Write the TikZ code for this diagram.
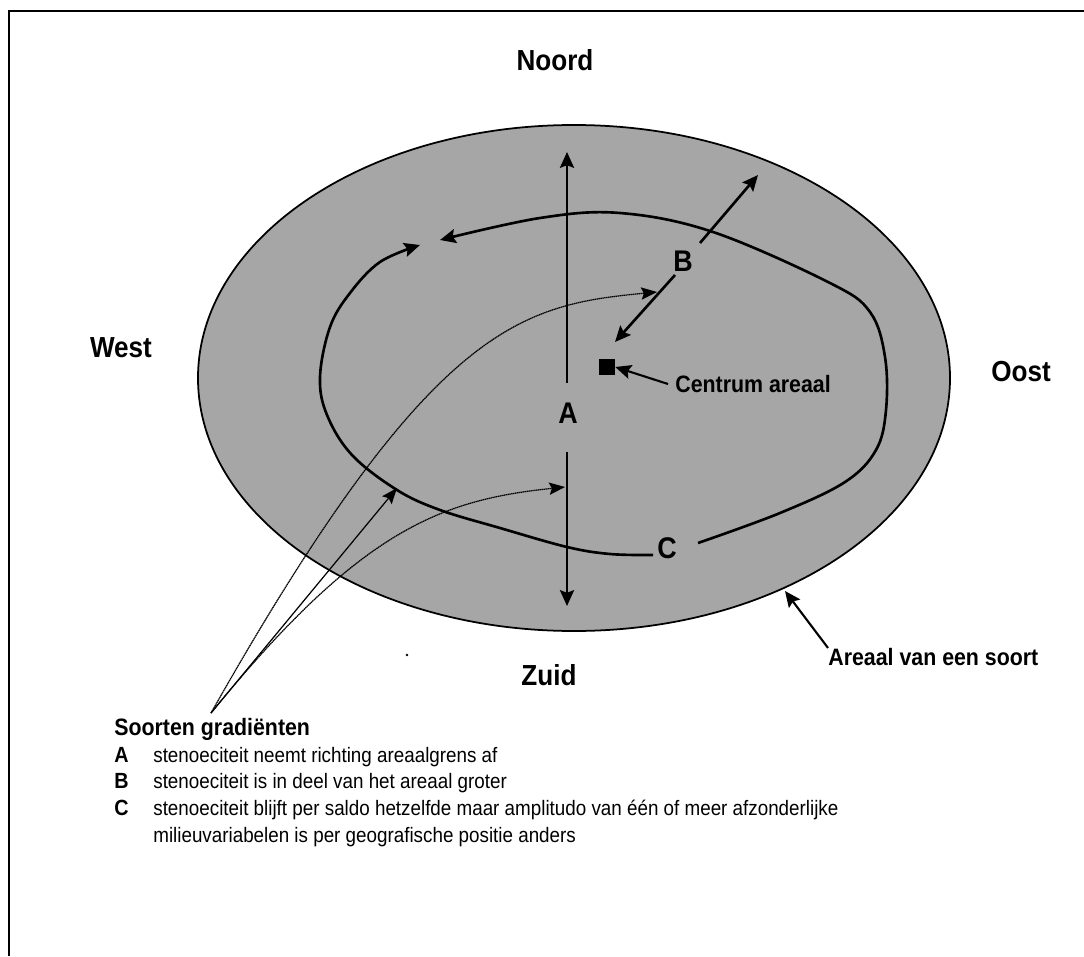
\documentclass[tikz,border=0pt]{standalone}
\usepackage{fontspec}
\setmainfont{Liberation Sans}[FakeStretch=0.9]
\usetikzlibrary{arrows.meta}
\definecolor{areagray}{RGB}{166,166,166}

\tikzset{
  windrose/.style={font=\bfseries\fontsize{16.5}{19}\selectfont},
  gradlabel/.style={font=\bfseries\fontsize{17}{20}\selectfont},
  note/.style={font=\bfseries\fontsize{13.5}{16}\selectfont, anchor=west, inner sep=4pt},
  legtitle/.style={font=\bfseries\fontsize{13.5}{16}\selectfont, anchor=base west, inner sep=0pt},
  legkey/.style={font=\bfseries\fontsize{12.5}{15}\selectfont, anchor=base west, inner sep=0pt},
  legtext/.style={font=\fontsize{11.9}{15}\selectfont, anchor=base west, inner sep=0pt},
  arr/.style={line width=1.5pt, -{Stealth[length=9pt,width=8pt,inset=1.5pt]}},
  thinarr/.style={line width=0.7pt, -{Stealth[length=9pt,width=7pt,inset=1.5pt]}},
  fine/.style={dash pattern=on 0.8pt off 0.3pt},
}

\begin{document}
\begin{tikzpicture}[x=0.02cm,y=-0.02cm]
\useasboundingbox (0,0) rectangle (1084,956);
\draw[line width=1.7pt] (9,956) -- (9,11) -- (1084,11);
\draw[line width=1pt, fill=areagray] (574,378) ellipse [x radius=376, y radius=253];

\node[windrose] (noord) at (555,60) {Noord};
\node[windrose] (west) at (121,348) {West};
\node[windrose] (oost) at (1021,372) {Oost};
\node[windrose] (zuid) at (549,675) {Zuid};

\draw[arr] plot[smooth, tension=0.6] coordinates {(698,543) (780,513) (845,482) (876,450) (886,410) (885,357) (870,312) (830,283) (713,232) (620,213) (540,218) (440,240)};
\draw[arr] plot[smooth, tension=0.6] coordinates {(653,555) (610,554) (567,547) (500,528) (440,510) (397,490) (352,455) (327,415) (320,377) (330,327) (350,293) (380,262) (420,245)};

\node[gradlabel] (A) at (568,413) {A};
\coordinate (Atop) at (567,152);
\coordinate (Abot) at (567,606);
\draw[arr] (567,383) -- (Atop);
\draw[arr] (567,452) -- (Abot);

\node[gradlabel] (B) at (683,261) {B};
\coordinate (Bout) at (758,175);
\coordinate (Bin) at (615,342);
\draw[arr] (700,243) -- (Bout);
\draw[arr] (675,275) -- (Bin);

\node[gradlabel] (C) at (667,548) {C};

\node[fill=black, inner sep=0pt, minimum size=9pt] (centre) at (607,367) {};
\node[note] (centrum) at (668,384) {Centrum areaal};
\draw[arr, line width=1.2pt] (centrum.west) -- (centre.east);

\node[note, inner sep=0pt] (areaal) at (828,657) {Areaal van een soort};
\coordinate (rim) at (785,591);
\draw[arr, line width=1.2pt] (areaal.north west) -- (rim);

\coordinate (gradfoot) at (211,713);
\coordinate (gradB) at (657,292);
\coordinate (gradC) at (397,488);
\coordinate (gradA) at (565,487);
\draw[thinarr, fine] (gradfoot) .. controls (431,324) and (520,305) .. (gradB);
\draw[thinarr] (gradfoot) -- (gradC);
\draw[thinarr, fine] (gradfoot) .. controls (360,530) and (440,500) .. (gradA);
\fill (407,655) circle (0.8pt);

\node[legtitle] (legend) at (114,735) {Soorten gradiënten};
\node[legkey] (keyA) at (114,762) {A};
\node[legtext] (textA) at (153,762) {stenoeciteit neemt richting areaalgrens af};
\node[legkey] (keyB) at (114,788) {B};
\node[legtext] (textB) at (153,788) {stenoeciteit is in deel van het areaal groter};
\node[legkey] (keyC) at (114,815) {C};
\node[legtext] (textC) at (153,815) {stenoeciteit blijft per saldo hetzelfde maar amplitudo van één of meer afzonderlijke};
\node[legtext] (textC2) at (153,842) {milieuvariabelen is per geografische positie anders};
\end{tikzpicture}
\end{document}
